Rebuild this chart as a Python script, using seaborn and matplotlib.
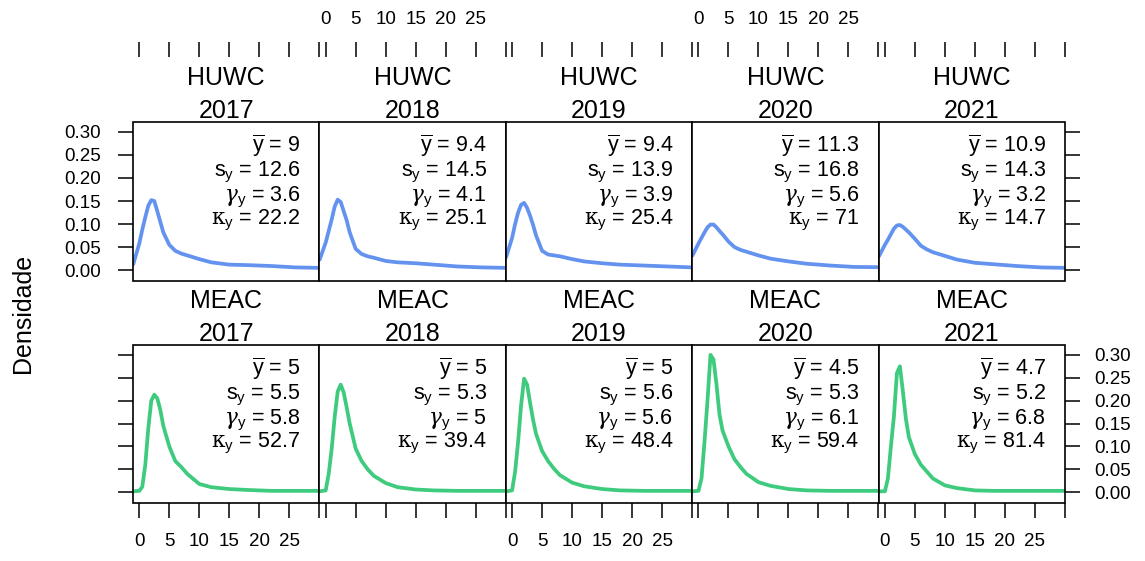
import matplotlib
matplotlib.use("Agg")
import matplotlib.pyplot as plt
from matplotlib.patches import Rectangle
import numpy as np
import pandas as pd
import seaborn as sns

sns.set_theme(style="white")
plt.rcParams["font.family"] = ["Liberation Sans", "DejaVu Sans"]
plt.rcParams["text.color"] = "black"
plt.rcParams["axes.labelcolor"] = "black"
plt.rcParams["xtick.color"] = "black"
plt.rcParams["ytick.color"] = "black"
plt.rcParams["mathtext.fontset"] = "custom"
plt.rcParams["mathtext.rm"] = "Liberation Sans"
plt.rcParams["mathtext.it"] = "Liberation Sans"
plt.rcParams["mathtext.bf"] = "Liberation Sans:bold"
plt.rcParams["mathtext.sf"] = "DejaVu Serif:italic"
plt.rcParams["mathtext.tt"] = "DejaVu Serif"

# ---- dados -------------------------------------------------------------
grupos = ["HUWC", "MEAC"]
anos = [2017, 2018, 2019, 2020, 2021]

x_grid = [-1, 0, 0.5, 1, 1.5, 2, 2.5, 3, 3.5, 4, 5, 6, 7, 8, 10, 12, 15, 18, 22, 26, 30]

dens_huwc_2017 = [0.013, 0.058, 0.088, 0.115, 0.140, 0.152, 0.150, 0.128, 0.105, 0.082, 0.055,
                  0.042, 0.036, 0.032, 0.024, 0.017, 0.012, 0.011, 0.009, 0.006, 0.005]
dens_huwc_2018 = [0.023, 0.060, 0.085, 0.110, 0.138, 0.153, 0.148, 0.128, 0.108, 0.082, 0.046,
                  0.035, 0.030, 0.027, 0.020, 0.017, 0.015, 0.012, 0.008, 0.006, 0.005]
dens_huwc_2019 = [0.028, 0.070, 0.100, 0.125, 0.142, 0.146, 0.135, 0.118, 0.098, 0.075, 0.042,
                  0.034, 0.032, 0.030, 0.024, 0.019, 0.015, 0.012, 0.010, 0.008, 0.006]
dens_huwc_2020 = [0.032, 0.058, 0.070, 0.082, 0.093, 0.099, 0.099, 0.093, 0.085, 0.078, 0.062,
                  0.050, 0.044, 0.040, 0.032, 0.025, 0.019, 0.014, 0.010, 0.007, 0.0065]
dens_huwc_2021 = [0.030, 0.055, 0.066, 0.078, 0.090, 0.097, 0.098, 0.094, 0.088, 0.082, 0.068,
                  0.053, 0.045, 0.039, 0.031, 0.023, 0.016, 0.013, 0.009, 0.006, 0.005]

dens_meac_2017 = [0.002, 0.003, 0.012, 0.060, 0.140, 0.200, 0.213, 0.205, 0.180, 0.145, 0.100,
                  0.068, 0.055, 0.040, 0.018, 0.011, 0.007, 0.005, 0.003, 0.003, 0.003]
dens_meac_2018 = [0.002, 0.004, 0.040, 0.095, 0.165, 0.220, 0.235, 0.218, 0.185, 0.150, 0.095,
                  0.068, 0.050, 0.036, 0.020, 0.011, 0.006, 0.004, 0.003, 0.003, 0.003]
dens_meac_2019 = [0.002, 0.004, 0.045, 0.110, 0.190, 0.248, 0.235, 0.195, 0.158, 0.127, 0.090,
                  0.068, 0.051, 0.037, 0.021, 0.013, 0.007, 0.004, 0.003, 0.003, 0.003]
dens_meac_2020 = [0.002, 0.003, 0.030, 0.110, 0.200, 0.300, 0.290, 0.235, 0.170, 0.135, 0.100,
                  0.072, 0.055, 0.040, 0.022, 0.014, 0.007, 0.004, 0.003, 0.003, 0.003]
dens_meac_2021 = [0.002, 0.002, 0.030, 0.100, 0.165, 0.260, 0.275, 0.220, 0.160, 0.120, 0.083,
                  0.060, 0.045, 0.030, 0.015, 0.009, 0.004, 0.003, 0.003, 0.003, 0.003]

media_huwc = [9, 9.4, 9.4, 11.3, 10.9]
dp_huwc = [12.6, 14.5, 13.9, 16.8, 14.3]
assim_huwc = [3.6, 4.1, 3.9, 5.6, 3.2]
curt_huwc = [22.2, 25.1, 25.4, 71, 14.7]

media_meac = [5, 5, 5, 4.5, 4.7]
dp_meac = [5.5, 5.3, 5.6, 5.3, 5.2]
assim_meac = [5.8, 5, 5.6, 6.1, 6.8]
curt_meac = [52.7, 39.4, 48.4, 59.4, 81.4]

x_ticks = [0, 5, 10, 15, 20, 25, 30]
x_ticklabels = ["0", "5", "10", "15", "20", "25", ""]
y_ticks = [0.00, 0.05, 0.10, 0.15, 0.20, 0.25, 0.30]
y_ticklabels = ["0.00", "0.05", "0.10", "0.15", "0.20", "0.25", "0.30"]

densidades = {
    ("HUWC", 2017): dens_huwc_2017, ("HUWC", 2018): dens_huwc_2018,
    ("HUWC", 2019): dens_huwc_2019, ("HUWC", 2020): dens_huwc_2020,
    ("HUWC", 2021): dens_huwc_2021,
    ("MEAC", 2017): dens_meac_2017, ("MEAC", 2018): dens_meac_2018,
    ("MEAC", 2019): dens_meac_2019, ("MEAC", 2020): dens_meac_2020,
    ("MEAC", 2021): dens_meac_2021,
}
resumo = {
    "HUWC": (media_huwc, dp_huwc, assim_huwc, curt_huwc),
    "MEAC": (media_meac, dp_meac, assim_meac, curt_meac),
}

df = pd.concat(
    [pd.DataFrame({"grupo": g, "ano": a, "x": x_grid, "densidade": d})
     for (g, a), d in densidades.items()],
    ignore_index=True,
)

cores = {"HUWC": "#6393EE", "MEAC": "#3FCB7E"}


def fmt(v):
    return f"{v:g}"


# ---- figura (grade 2 x 5, estilo lattice) ------------------------------
W, H = 1145, 561
fig = plt.figure(figsize=(W / 100, H / 100), dpi=100)
PT = 0.72          # pontos por pixel a 100 dpi
x0, pw = 133.0, 186.4
linhas = {"HUWC": (122.0, 281.0), "MEAC": (345.0, 503.0)}
offs_texto = [30, 54, 79, 102]

for r, grupo in enumerate(grupos):
    top, bot = linhas[grupo]
    med, dp, ass, cur = resumo[grupo]
    for c, ano in enumerate(anos):
        ax = fig.add_axes([(x0 + c * pw) / W, 1 - bot / H, pw / W, (bot - top) / H])
        sub = df[(df.grupo == grupo) & (df.ano == ano)]
        sns.lineplot(data=sub, x="x", y="densidade", ax=ax, color=cores[grupo],
                     lw=2.7, estimator=None, legend=False)
        for ln in ax.lines:
            ln.set_solid_joinstyle("round")

        ax.set_xlim(-1.05, 30.02)
        ax.set_ylim(-0.0235, 0.3215)
        ax.set_xticks(x_ticks)
        ax.set_xticklabels(x_ticklabels)
        ax.set_yticks(y_ticks)
        ax.set_yticklabels(y_ticklabels)
        ax.set_xlabel("")
        ax.set_ylabel("")
        ax.grid(False)
        ax.set_facecolor("white")
        for sp in ax.spines.values():
            sp.set_visible(False)
        ax.add_patch(Rectangle((0, 0), 1, 1, transform=ax.transAxes, fill=False,
                               lw=1.2, ec="black", clip_on=False, zorder=5))

        ax.tick_params(which="both", direction="out", length=15 * PT, width=1.1,
                       color="black", labelcolor="black", labelsize=13.5)
        if r == 0:
            ax.spines["top"].set_position(("outward", (top - 57) * PT))
            ax.tick_params(axis="x", bottom=False, labelbottom=False, top=True,
                           labeltop=(c % 2 == 1), pad=10)
        else:
            ax.tick_params(axis="x", top=False, labeltop=False, bottom=True,
                           labelbottom=(c % 2 == 0), pad=11)
        ax.tick_params(axis="y", left=(c == 0), right=(c == 4),
                       labelleft=(c == 0 and r == 0), labelright=(c == 4 and r == 1))
        if c == 0:
            ax.tick_params(axis="y", which="both", pad=12.5)
        if c == 4:
            ax.tick_params(axis="y", which="both", pad=10.5)

        # faixa com grupo e ano
        cx = (x0 + (c + 0.5) * pw) / W
        fig.text(cx, 1 - (top - 37) / H, grupo, ha="center", va="baseline", fontsize=18)
        fig.text(cx, 1 - (top - 4) / H, str(ano), ha="center", va="baseline", fontsize=18)

        # medidas resumo
        linhas_txt = [
            r"$\overline{y}$ = " + fmt(med[c]),
            r"$s_y$ = " + fmt(dp[c]),
            r"$\mathsf{\gamma}_y$ = " + fmt(ass[c]),
            r"$\mathtt{\kappa}_y$ = " + fmt(cur[c]),
        ]
        xr = (x0 + (c + 1) * pw - 19) / W
        for s, o in zip(linhas_txt, offs_texto):
            fig.text(xr, 1 - (top + o) / H, s, ha="right", va="baseline", fontsize=15.5)

fig.text(23 / W, 1 - 313 / H, "Densidade", rotation=90, ha="center", va="center", fontsize=18)

fig.savefig("out.png", dpi=100, facecolor="white")
